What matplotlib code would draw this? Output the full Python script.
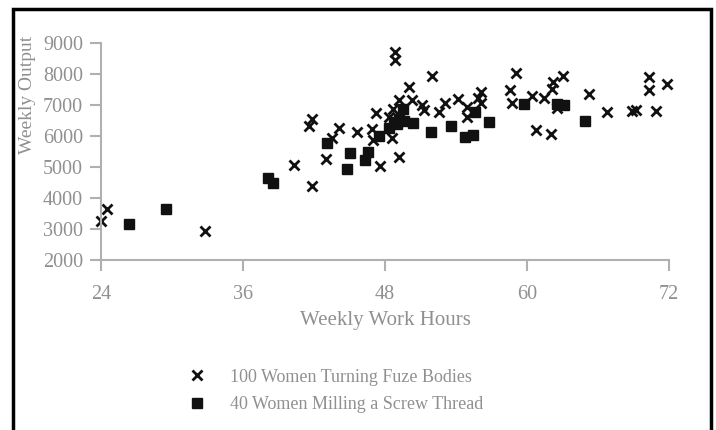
import matplotlib

matplotlib.use("Agg")
import matplotlib.pyplot as plt
from matplotlib.patches import Rectangle

# Group 1: 100 women turning fuze bodies (x markers)
fuze_hours = [24.0, 24.5, 32.8, 40.3, 41.6, 41.8, 41.8, 43.0, 43.5, 44.1,
              45.6, 47.2, 46.9, 47.0, 47.6, 48.6, 49.2, 48.85, 48.85, 49.2,
              48.7, 50.0, 50.3, 51.1, 51.3, 52.0, 52.6, 53.1, 54.2, 54.9,
              54.9, 55.9, 56.1, 56.1, 58.6, 58.7, 59.1, 60.4, 61.4, 62.1,
              62.2, 63.0, 60.8, 62.0, 62.5, 65.2, 66.8, 68.9, 69.2, 70.35,
              70.35, 70.9, 71.8, 48.3]
fuze_output = [3270, 3650, 2940, 5070, 6330, 6540, 4400, 5250, 5950, 6250,
               6130, 6750, 6220, 5870, 5040, 5925, 5310, 8700, 8440, 7170,
               6870, 7580, 7160, 7000, 6830, 7940, 6770, 7080, 7200, 6920,
               6600, 7230, 7410, 7080, 7470, 7080, 8030, 7300, 7215, 7510,
               7750, 7925, 6195, 6075, 6900, 7355, 6790, 6815, 6840, 7890,
               7480, 6815, 7680, 6600]

# Group 2: 40 women milling a screw thread (square markers)
screw_hours = [26.4, 29.5, 38.1, 38.5, 43.1, 45.0, 44.8, 46.6, 46.3, 47.5,
               48.3, 48.8, 49.2, 49.5, 49.6, 50.4, 51.9, 53.6, 54.8, 55.4,
               55.6, 56.8, 59.75, 62.5, 63.1, 64.9, 49.0]
screw_output = [3160, 3640, 4640, 4500, 5765, 5440, 4930, 5500, 5230, 6000,
                6250, 6450, 6550, 6870, 6500, 6420, 6120, 6320, 5960, 6020,
                6790, 6460, 7040, 7040, 6990, 6495, 6400]

x_ticks = [24, 36, 48, 60, 72]
y_ticks = [2000, 3000, 4000, 5000, 6000, 7000, 8000, 9000]

plt.rcParams["font.family"] = ["Liberation Serif", "DejaVu Serif"]
grey_text = "#909090"
grey_line = "#b0b0b0"

fig = plt.figure(figsize=(7.16, 4.30), dpi=100)
ax = fig.add_axes([101 / 716, 1 - 260 / 430, 568 / 716, 217 / 430])

h_fuze, = ax.plot(fuze_hours, fuze_output, linestyle="none", marker="x",
                  markersize=7.5, markeredgewidth=2.0, color="#111111",
                  clip_on=False, label="100 Women Turning Fuze Bodies")
h_screw, = ax.plot(screw_hours, screw_output, linestyle="none", marker="s",
                   markersize=7.5, color="#111111", clip_on=False,
                   label="40 Women Milling a Screw Thread")

ax.set_xlim(24, 72)
ax.set_ylim(2000, 9000)
ax.set_xticks(x_ticks)
ax.set_yticks(y_ticks)
for side in ("top", "right"):
    ax.spines[side].set_visible(False)
for side in ("left", "bottom"):
    ax.spines[side].set_color(grey_line)
    ax.spines[side].set_linewidth(1.5)
ax.tick_params(axis="both", direction="out", length=8, width=1.5,
               color=grey_line, labelcolor=grey_text, labelsize=14.5)
ax.tick_params(axis="x", pad=10)
ax.tick_params(axis="y", pad=5)

ax.set_xlabel("Weekly Work Hours", fontsize=15, color=grey_text, labelpad=5)
fig.text(28 / 716, 1 - 95 / 430, "Weekly Output", rotation=90, fontsize=14,
         color=grey_text, ha="center", va="center")

fig.legend(handles=[h_fuze, h_screw], loc="center left",
           bbox_to_anchor=(172 / 716, 1 - 391 / 430), frameon=False,
           fontsize=13, labelcolor=grey_text, handlelength=1.0,
           handletextpad=1.33, labelspacing=0.6)

# black frame around the whole picture (bottom edge runs off the image)
fig.patches.append(Rectangle((13 / 716, -0.05), 698 / 716, 1.05 - 9 / 430,
                             transform=fig.transFigure, fill=False,
                             edgecolor="black", linewidth=2.5))

fig.savefig("out.png", dpi=100)
plt.close(fig)
